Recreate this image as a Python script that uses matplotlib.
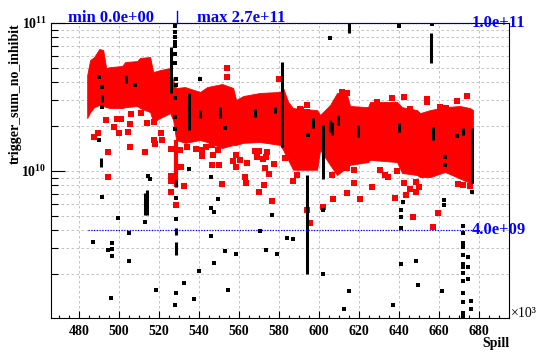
import numpy as np
import matplotlib.pyplot as plt
from matplotlib.ticker import MultipleLocator, LogLocator, NullFormatter

plt.rcParams['font.family'] = ['Liberation Serif', 'DejaVu Serif']
plt.rcParams['font.weight'] = 'bold'
plt.rcParams['mathtext.fontset'] = 'custom'
plt.rcParams['mathtext.rm'] = 'Liberation Serif:bold'
plt.rcParams['mathtext.bf'] = 'Liberation Serif:bold'

# spill in units of 1e3, trigger counts in units of 1e9
band_x = [484.0, 485.5, 487.5, 490.0, 492.0, 493.5, 495.5, 501.5, 503.0, 509.0,
          510.5, 515.5, 517.0, 520.5, 525.5, 527.0, 528.5, 533.0, 540.5, 544.0,
          551.5, 557.0, 558.5, 562.0, 570.5, 580.5, 582.0, 584.5, 587.0, 599.0,
          600.5, 605.5, 609.0, 614.0, 615.5, 624.5, 625.5, 639.0, 641.5, 649.0,
          650.5, 655.5, 663.0, 670.5, 675.5, 677.0]
band_hi = [44.5, 56.2, 58.9, 66.7, 65.7, 49.6, 50.4, 51.2, 54.5, 55.3,
           58.1, 58.9, 46.6, 48.1, 49.6, 41.2, 36.4, 36.9, 34.2, 36.9,
           38.7, 36.4, 30.2, 32.1, 33.7, 34.2, 36.4, 29.3, 26.6, 25.8,
           23.9, 27.9, 33.7, 32.6, 27.5, 27.0, 29.3, 29.3, 27.0, 25.8,
           24.6, 25.8, 27.0, 27.5, 26.6, 25.8]
band_lo = [22.8, 25.0, 27.0, 27.9, 27.5, 27.0, 26.6, 26.6, 27.0, 27.5,
           26.6, 25.0, 21.4, 22.8, 24.6, 22.1, 16.2, 15.5, 16.2, 15.7,
           14.3, 15.0, 15.0, 15.5, 15.7, 15.0, 13.9, 11.9, 10.2, 10.2,
           13.9, 11.0, 9.4, 10.6, 11.0, 11.5, 11.9, 11.5, 9.7, 9.4,
           9.1, 9.1, 9.85, 8.9, 8.3, 8.3]

red_x = [493.4, 498.9, 500.9, 497.5, 499.7, 504.4, 505.5, 505.9, 510.9, 513.9,
         487.2, 489.2, 494.5, 505.5, 512.7, 517.2, 518.0, 521.0, 521.4, 525.9,
         530.5, 533.9, 538.5, 541.4, 543.5, 541.4, 530.9, 532.2, 525.9, 525.9,
         525.9, 528.5, 494.4, 517.5, 547.0, 546.4, 549.7, 551.4, 556.9, 560.5,
         558.5, 563.9, 563.0, 563.5, 568.9, 573.5, 573.0, 574.7, 572.2, 569.7,
         576.4, 577.2, 587.2, 588.9, 593.9, 595.5, 573.9, 553.9, 553.9, 579.7,
         593.9, 593.9, 590.5, 546.4, 549.2, 558.4, 567.7, 569.7, 571.9, 583.0,
         602.2, 611.4, 614.2, 628.9, 636.4, 642.7, 654.2, 669.2, 673.9, 645.5,
         660.5, 663.5, 613.9, 617.7, 630.5, 633.0, 634.7, 638.9, 642.5, 645.5,
         643.5, 648.5, 650.2, 648.5, 626.4, 617.5, 613.9, 607.2, 620.5, 638.0,
         669.7, 672.2, 675.5, 606.4, 591.0, 653.9, 646.9, 656.9, 659.4]
red_y = [22.1, 22.4, 22.4, 19.7, 18.1, 18.4, 20.8, 24.3, 24.5, 21.0,
         17.0, 18.0, 13.5, 14.6, 13.5, 16.2, 15.2, 18.0, 16.2, 14.1,
         13.9, 14.5, 14.0, 13.9, 14.5, 12.7, 10.7, 7.96, 9.25, 8.6,
         7.25, 5.89, 9.07, 21.5, 12.8, 11.0, 11.0, 8.13, 11.6, 11.9,
         10.6, 11.4, 9.15, 8.26, 12.5, 12.4, 10.4, 9.54, 8.04, 7.25,
         6.30, 11.2, 8.6, 9.4, 5.45, 4.47, 13.5, 49.4, 43.4, 41.6,
         27.9, 25.2, 26.1, 15.0, 13.9, 12.8, 13.7, 13.7, 12.0, 12.2,
         5.74, 34.0, 33.5, 29.4, 31.0, 31.8, 30.5, 29.9, 32.1, 26.1,
         27.2, 26.5, 10.4, 10.2, 10.2, 9.4, 9.07, 10.05, 8.33, 7.52,
         6.88, 8.47, 7.76, 7.25, 7.76, 8.26, 7.07, 6.44, 6.44, 6.54,
         8.17, 8.04, 7.92, 9.4, 25.8, 29.1, 4.91, 4.2, 5.23]

# red run of points below the band
red_col_x = [528.2]
red_col_lo = [7.8]
red_col_hi = [16.2]

blk_x = [528.0, 528.0, 528.0, 528.0, 528.0, 528.0, 528.0, 528.0, 528.5, 528.5,
         528.0, 528.0, 528.0, 528.5, 528.5, 528.3, 528.0,
         490.0, 491.4, 491.4, 490.0, 507.7, 540.5, 514.2, 515.2, 491.4, 534.7,
         499.2, 512.7, 487.0, 494.2, 496.5, 496.5, 496.5, 504.9, 504.9, 495.9,
         518.2, 532.2, 537.5, 540.0, 545.9, 547.2, 545.9, 547.2, 552.7, 558.2,
         554.5, 570.5, 573.5, 576.4, 578.9, 583.9, 587.2, 545.9, 549.4, 553.0,
         594.4, 601.9, 602.2, 615.2, 612.5, 641.0, 641.0, 641.0, 641.0, 648.5,
         649.7, 661.4, 636.9, 662.7, 662.7, 669.2, 663.0, 663.0, 676.4, 642.2,
         605.5, 640.2, 656.7, 674.7, 674.7, 674.7, 676.0, 676.0,
         671.9, 671.9, 671.9, 671.9, 671.9, 671.9, 671.9, 671.9, 671.9, 671.9,
         671.9, 671.9, 671.9]
blk_y = [98.0, 95.4, 87.0, 80.4, 74.4, 69.9, 61.7, 53.7, 41.8, 38.1,
         31.1, 23.2, 19.2, 6.57, 4.74, 1.50, 1.24,
         43.2, 36.9, 27.1, 16.2, 38.1, 41.8, 9.25, 8.79, 6.67, 10.3,
         4.84, 4.54, 3.33, 2.93, 3.28, 2.97, 2.66, 3.79, 2.48, 1.39,
         1.56, 1.76, 1.37, 2.11, 5.6, 5.31, 3.64, 2.40, 2.88, 2.75,
         1.57, 3.95, 2.93, 5.04, 2.74, 3.54, 3.49, 9.07, 6.47, 19.4,
         17.5, 5.45, 2.01, 1.55, 1.16, 5.45, 4.91, 4.10, 2.35, 2.48,
         1.70, 1.55, 1.24, 6.37, 5.89, 17.2, 12.5, 11.0, 7.25, 6.2,
         79.6, 95.4, 98.0, 2.61, 2.26, 1.85, 1.33, 1.17,
         4.25, 3.81, 3.28, 3.08, 2.71, 2.35, 2.26, 2.06, 1.81, 1.51,
         1.31, 1.09, 1.04]

# vertical runs of black points
seg_x = [526.0, 534.7, 503.5, 540.5, 491.4, 491.0, 512.7, 514.0, 550.5, 568.0,
         578.0, 581.4, 597.2, 601.9, 605.5, 609.7, 619.7, 640.2, 656.9, 672.2,
         676.4, 593.9, 655.9, 615.0, 528.5, 528.5, 528.3, 606.4]
seg_hi = [68.8, 33.7, 44.5, 25.8, 32.6, 12.2, 7.1, 7.45, 27.0, 26.2,
          27.0, 54.5, 22.8, 20.5, 22.1, 23.9, 20.5, 21.1, 19.8, 19.5,
          19.5, 9.4, 85.6, 100.0, 3.33, 4.12, 8.7, 21.4]
seg_lo = [33.7, 18.9, 39.3, 22.8, 29.3, 10.6, 5.05, 5.05, 22.8, 23.2,
          24.6, 14.5, 19.5, 8.9, 18.4, 20.5, 17.0, 18.4, 16.2, 17.5,
          8.3, 2.02, 53.7, 85.6, 2.71, 3.7, 7.8, 17.5]

line_x0, line_x1 = 484.3, 676.5
max_line, min_line = 100.0, 4.0
max_spill = 529.0

E9 = 1e9
fig = plt.figure(figsize=(5.4, 3.52), dpi=100)
ax = fig.add_axes([51/540, 1-318/352, 458/540, 295/352])

# main band of readings
ax.fill_between(band_x, np.array(band_lo)*E9, np.array(band_hi)*E9,
                color='#ff0000', lw=0.6, edgecolor='#ff0000', zorder=2)
ax.vlines(red_col_x, np.array(red_col_lo)*E9, np.array(red_col_hi)*E9,
          colors='#ff0000', lw=3, zorder=2)
ax.plot(red_x, np.array(red_y)*E9, 's', color='#ff0000', ms=3.8, mew=0, zorder=3)
ax.vlines(seg_x, np.array(seg_lo)*E9, np.array(seg_hi)*E9, colors='k', lw=2.2, zorder=4)
ax.plot(blk_x, np.array(blk_y)*E9, 's', color='k', ms=2.4, mew=0, zorder=4)

# min / max markers
ax.plot([line_x0, line_x1], [max_line*E9]*2, color='blue', ls=(0, (1, 1.2)), lw=0.9, zorder=5, clip_on=False)
ax.plot([line_x0, line_x1], [min_line*E9]*2, color='blue', ls=(0, (1, 1.2)), lw=0.9, zorder=5)
ax.text(line_x1, max_line*E9, '1.0e+11', color='blue', fontsize=12, ha='left', va='center')
ax.text(line_x1, min_line*E9, '4.0e+09', color='blue', fontsize=12, ha='left', va='center')
ax.plot([max_spill, max_spill], [max_line*E9, 120*E9], color='blue', lw=1, clip_on=False, zorder=6)
ax.text(0.037, 1.004, 'min 0.0e+00', transform=ax.transAxes, color='blue', fontsize=12, va='baseline')
ax.text(0.319, 1.004, 'max 2.7e+11', transform=ax.transAxes, color='blue', fontsize=12, va='baseline')

ax.set_yscale('log')
ax.set_xlim(465.9, 695.0)
ax.set_ylim(1.016e9, 1e11)
ax.xaxis.set_major_locator(MultipleLocator(20))
ax.xaxis.set_minor_locator(MultipleLocator(5))
ax.yaxis.set_major_locator(LogLocator(base=10))
ax.yaxis.set_minor_locator(LogLocator(base=10, subs=np.arange(2, 10)))
ax.yaxis.set_minor_formatter(NullFormatter())
ax.tick_params(axis='x', which='major', direction='in', length=5, width=0.8, labelsize=10, pad=5)
ax.tick_params(axis='x', which='minor', direction='in', length=2.5, width=0.8)
ax.tick_params(axis='y', which='major', direction='in', length=10, width=0.8, labelsize=10, pad=3)
ax.tick_params(axis='y', which='minor', direction='in', length=5, width=0.8)

ax.grid(True, axis='x', which='major', color='#b8b8b8', ls=(0, (3, 3)), lw=0.6)
ax.grid(True, axis='y', which='both', color='#b8b8b8', ls=(0, (3, 3)), lw=0.6)
ax.set_axisbelow(True)
for s in ax.spines.values():
    s.set_linewidth(0.8)

fig.text(15/540, 1-23/352, 'trigger_sum_no_inhibit', rotation=90, ha='center', va='top', fontsize=10)
fig.text(509/540, 1-350/352, 'Spill', ha='right', va='bottom', fontsize=10)
fig.text(511/540, 1-320/352, '×10³', ha='left', va='bottom', fontsize=10, weight='normal')

fig.savefig('out.png', dpi=100)
